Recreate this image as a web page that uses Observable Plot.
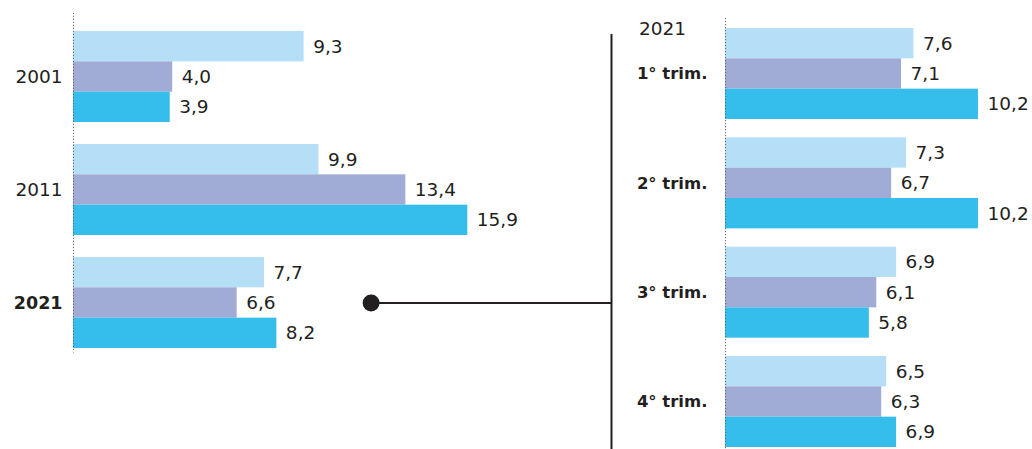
<!DOCTYPE html>
<html><head><meta charset="utf-8">
<script src="https://cdn.jsdelivr.net/npm/d3@7"></script>
<script src="https://cdn.jsdelivr.net/npm/@observablehq/plot@0.6"></script>
<style>
body{margin:0;background:#fff;}
#wrap{position:relative;width:1032px;height:449px;overflow:hidden;}
#left,#right{position:absolute;top:0;}
#left{left:0}
#right{left:609px}
</style></head><body><div id="wrap"><div id="left"></div><div id="right"></div></div>
<script>
// ---- data ----
const years = ["2001", "2011", "2021"];
const yearValues = [[9.3, 4.0, 3.9], [9.9, 13.4, 15.9], [7.7, 6.6, 8.2]];
const highlightYear = "2021";
const quarters = ["1° trim.", "2° trim.", "3° trim.", "4° trim."];
const quarterValues = [[7.6, 7.1, 10.2], [7.3, 6.7, 10.2], [6.9, 6.1, 5.8], [6.5, 6.3, 6.9]];
const seriesColors = ["#b5dff6", "#a0acd5", "#35bdeb"];

// ---- helpers ----
const PX = 24.8;            // pixels per unit on both panels
const FONT = "'DejaVu Sans', sans-serif";
const INK = "#231f20";
const fmt = v => d3.format(".1f")(v).replace(".", ",");
function buildRows(cats, vals, gap) {
  const out = [];
  cats.forEach((c, g) => vals[g].forEach((v, s) => {
    const y1 = g * (3 + gap) + s;
    out.push({cat: c, s, value: v, y1, y2: y1 + 1, label: fmt(v)});
  }));
  return out;
}
const groupCenter = (g, gap) => g * (3 + gap) + 1.5;

// ---- left panel ----
const gapL = 22 / 30.4;
const lRows = buildRows(years, yearValues, gapL);
const lTotal = 3 * years.length + gapL * (years.length - 1);
const lW = 611, lML = 73;
const lMax = (lW - lML) / PX;
const hiIdx = years.indexOf(highlightYear);
const hiY = hiIdx * (3 + gapL) + 1.5;
const left = Plot.plot({
  width: lW, height: 449,
  marginLeft: lML, marginRight: 0, marginTop: 0, marginBottom: 0,
  style: {fontFamily: FONT, background: "transparent", overflow: "visible"},
  x: {domain: [0, lMax], axis: null},
  y: {domain: [0, lTotal], range: [31, 348], axis: null},
  marks: [
    Plot.rect(lRows, {x1: d => 0, x2: "value", y1: "y1", y2: "y2", fill: d => seriesColors[d.s], inset: 0}),
    Plot.ruleX([0], {y1: -0.6, y2: lTotal + 0.15, stroke: "#666", strokeWidth: 1, strokeDasharray: "1.2,1.8"}),
    Plot.text(lRows, {x: "value", y: d => d.y1 + 0.5, text: "label", textAnchor: "start", dx: 9, fontSize: 18.5, fill: INK}),
    Plot.text(years.filter(y => y !== highlightYear), {x: d => 0, y: d => groupCenter(years.indexOf(d), gapL), text: d => d, textAnchor: "end", dx: -11, fontSize: 18.5, fill: INK}),
    Plot.text([highlightYear], {x: d => 0, y: d => groupCenter(years.indexOf(d), gapL), text: d => d, textAnchor: "end", dx: -11, fontSize: 17.5, fontWeight: "bold", fill: INK}),
    Plot.ruleY([highlightYear], {y: d => hiY, x1: d => 12, x2: d => lMax, stroke: INK, strokeWidth: 2}),
    Plot.dot([highlightYear], {x: d => 12, y: d => hiY, r: 8.5, fill: INK, stroke: "none"})
  ]
});
document.getElementById("left").append(left);

// ---- right panel ----
const gapR = 18.3 / 30.3;
const rRows = buildRows(quarters, quarterValues, gapR);
const rTotal = 3 * quarters.length + gapR * (quarters.length - 1);
const rW = 423, rML = 116;
const rMax = (rW - rML) / PX;
const lineX = -(rML - 2) / PX;
const right = Plot.plot({
  width: rW, height: 449,
  marginLeft: rML, marginRight: 0, marginTop: 0, marginBottom: 0,
  style: {fontFamily: FONT, background: "transparent", overflow: "visible"},
  x: {domain: [0, rMax], axis: null},
  y: {domain: [0, rTotal], range: [28, 447], axis: null},
  marks: [
    Plot.rect(rRows, {x1: d => 0, x2: "value", y1: "y1", y2: "y2", fill: d => seriesColors[d.s], inset: 0}),
    Plot.ruleX([0], {y1: -0.33, y2: rTotal + 0.1, stroke: "#666", strokeWidth: 1, strokeDasharray: "1.2,1.8"}),
    Plot.ruleX([0], {x: d => lineX, y1: 0.2, y2: rTotal + 0.1, stroke: INK, strokeWidth: 2}),
    Plot.text(rRows, {x: "value", y: d => d.y1 + 0.5, text: "label", textAnchor: "start", dx: 9, fontSize: 18.5, fill: INK}),
    Plot.text(quarters, {x: d => 0, y: d => groupCenter(quarters.indexOf(d), gapR), text: d => d, textAnchor: "end", dx: -18, fontSize: 16.5, fontWeight: "bold", fill: INK}),
    Plot.text([highlightYear], {frameAnchor: "top-left", dx: -63, dy: 21, text: d => d, textAnchor: "middle", fontSize: 18.5, fill: INK})
  ]
});
document.getElementById("right").append(right);
</script></body></html>
